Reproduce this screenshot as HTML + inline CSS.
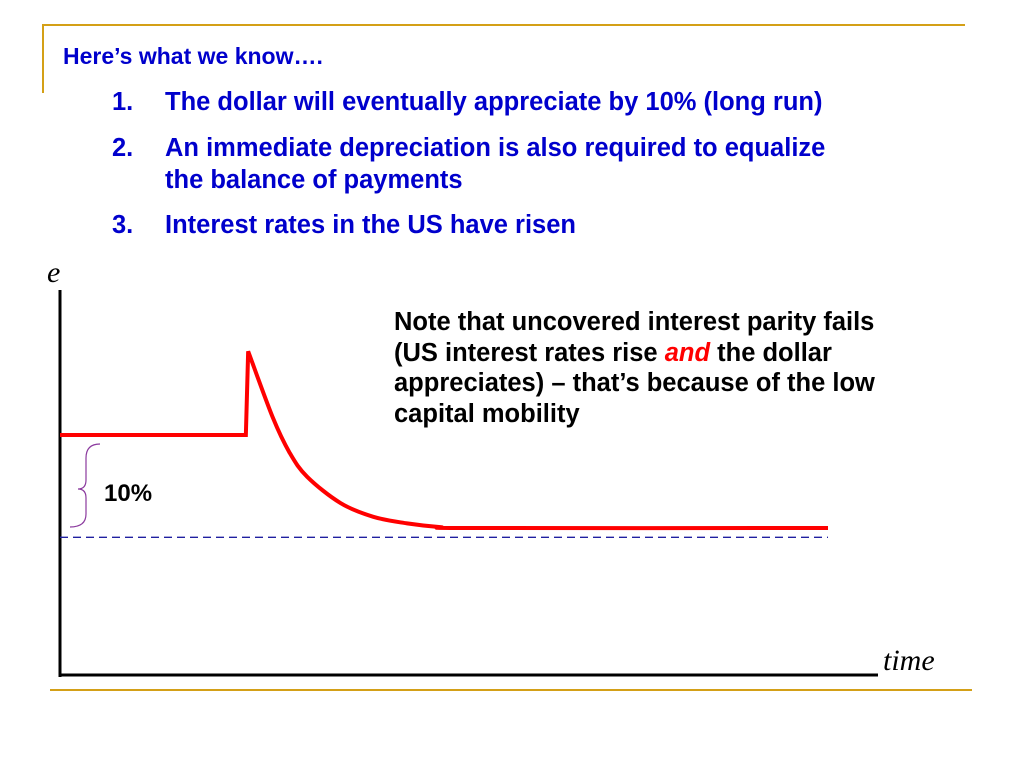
<!DOCTYPE html>
<html><head><meta charset="utf-8"><style>
body{margin:0;width:1024px;height:768px;background:#fff;overflow:hidden;position:relative;font-family:"Liberation Sans",Arial,sans-serif;}
.t{position:absolute;font-weight:bold;color:#0000cc;font-size:25.5px;line-height:32px;white-space:nowrap;}
</style></head><body>
<svg width="1024" height="768" style="position:absolute;left:0;top:0">
<line x1="42" y1="25" x2="965" y2="25" stroke="#d4a017" stroke-width="2"/>
<line x1="43" y1="25" x2="43" y2="93" stroke="#d4a017" stroke-width="2"/>
<line x1="50" y1="690" x2="972" y2="690" stroke="#d4a017" stroke-width="2"/>
<line x1="60" y1="290" x2="60" y2="677" stroke="#000" stroke-width="3"/>
<line x1="59" y1="675" x2="878" y2="675" stroke="#000" stroke-width="3"/>
<text x="47" y="282" font-family="Liberation Serif,serif" font-style="italic" font-size="30">e</text>
<text x="883" y="670" font-family="Liberation Serif,serif" font-style="italic" font-size="30">time</text>
<line id="dash" stroke="#2020a0" stroke-width="1.4" stroke-dasharray="8,5"/>
<path id="curve" fill="none" stroke="#f00" stroke-width="4" stroke-linejoin="miter"/>
<path d="M100 444 Q86 444 86 458 L86 480 Q86 489 78 489 Q86 489 86 498 L86 514 Q86 527 70 527" fill="none" stroke="#8b3a9e" stroke-width="1.2"/>
<text x="104" y="501" font-size="24" font-weight="bold" font-family="Liberation Sans,sans-serif">10%</text>
</svg>
<div class="t" style="left:63px;top:40px;font-size:23px">Here’s what we know….</div>
<div class="t" style="left:112px;top:86px">1.<span style="position:absolute;left:53px">The dollar will eventually appreciate by 10% (long run)</span></div>
<div class="t" style="left:112px;top:132px">2.<span style="position:absolute;left:53px">An immediate depreciation is also required to equalize<br>the balance of payments</span></div>
<div class="t" style="left:112px;top:209px">3.<span style="position:absolute;left:53px">Interest rates in the US have risen</span></div>
<div class="t" style="left:394px;top:307px;color:#000;line-height:30.7px;font-size:25.5px">Note that uncovered interest parity fails<br>(US interest rates rise <i style="color:#f00">and</i> the dollar<br>appreciates) – that’s because of the low<br>capital mobility</div>
<script>
const times=[0,24.2,24.5,27.7,29.9,32.2,36.5,40.8,45.2,49.5,53.8,100];
const rates=[100,100,109.0,101.9,98.1,95.5,92.7,91.2,90.5,90.1,90.0,90.0];
const longRunLevel=[89.0];
const xS=t=>60+t*7.68;
const yS=e=>435-(e-100)*9.3;
const P=times.map((t,i)=>[xS(t),yS(rates[i])]);
let d='M'+P[0][0]+' '+P[0][1]+' L'+P[1][0]+' '+P[1][1]+' L'+P[2][0]+' '+P[2][1]+' ';
for(let i=2;i<P.length-1;i++){
  const p0=P[Math.max(2,i-1)],p1=P[i],p2=P[i+1],p3=P[Math.min(P.length-1,i+2)];
  const c1=[p1[0]+(p2[0]-p0[0])/6,p1[1]+(p2[1]-p0[1])/6];
  const c2=[p2[0]-(p3[0]-p1[0])/6,p2[1]-(p3[1]-p1[1])/6];
  d+='C'+c1[0].toFixed(1)+' '+c1[1].toFixed(1)+' '+c2[0].toFixed(1)+' '+c2[1].toFixed(1)+' '+p2[0].toFixed(1)+' '+p2[1].toFixed(1)+' ';
}
document.getElementById('curve').setAttribute('d',d);
const dl=document.getElementById('dash');
dl.setAttribute('x1',xS(0));dl.setAttribute('x2',xS(100));
dl.setAttribute('y1',yS(longRunLevel[0]));dl.setAttribute('y2',yS(longRunLevel[0]));
</script>
</body></html>
